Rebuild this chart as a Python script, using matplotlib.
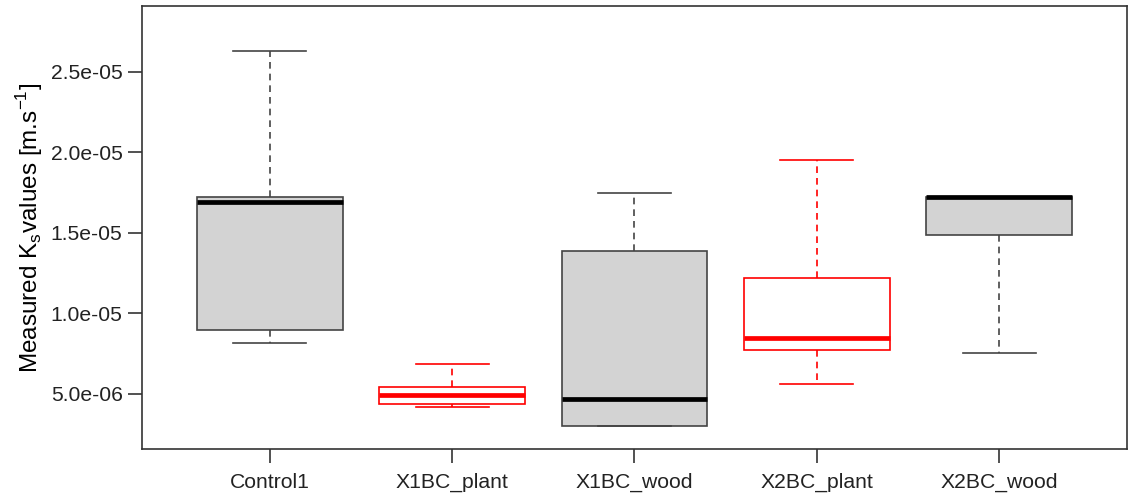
import numpy as np
import matplotlib.pyplot as plt

plt.rcParams['font.family'] = ['Liberation Sans', 'DejaVu Sans']

# box statistics
groups = ['Control1', 'X1BC_plant', 'X1BC_wood', 'X2BC_plant', 'X2BC_wood']
whis_lo = [8.17e-06, 4.18e-06, 2.96e-06, 5.60e-06, 7.54e-06]
q1 = [8.96e-06, 4.35e-06, 2.96e-06, 7.71e-06, 1.488e-05]
medians = [1.693e-05, 4.89e-06, 4.66e-06, 8.44e-06, 1.720e-05]
q3 = [1.721e-05, 5.41e-06, 1.387e-05, 1.217e-05, 1.725e-05]
whis_hi = [2.63e-05, 6.84e-06, 1.747e-05, 1.951e-05, 1.725e-05]
colours = ['black', 'red', 'black', 'red', 'black']
fills = ['lightgray', 'white', 'lightgray', 'white', 'lightgray']

stats = []
for i, g in enumerate(groups):
    stats.append(dict(label=g, whislo=whis_lo[i], q1=q1[i], med=medians[i],
                      q3=q3[i], whishi=whis_hi[i], fliers=[]))

fig = plt.figure(figsize=(11.31, 4.98), dpi=100)
ax = fig.add_axes([0.1256, 0.0984, 0.8708, 0.8896])

positions = np.arange(1, len(groups) + 1)
bp = ax.bxp(stats, positions=positions, widths=0.8, patch_artist=True,
            showfliers=False, whiskerprops=dict(linestyle=(0, (4, 3))))

for i, c in enumerate(colours):
    ec = '#444444' if c == 'black' else 'red'
    bp['boxes'][i].set_facecolor(fills[i])
    bp['boxes'][i].set_edgecolor(ec)
    bp['boxes'][i].set_linewidth(1.2)
    bp['medians'][i].set_color(c)
    bp['medians'][i].set_linewidth(3.4)
    for w in bp['whiskers'][2 * i:2 * i + 2]:
        w.set_color(ec)
        w.set_linewidth(1.2)
    for cap in bp['caps'][2 * i:2 * i + 2]:
        cap.set_color(ec)
        cap.set_linewidth(1.2)
        x = cap.get_xdata()
        mid = (x[0] + x[1]) / 2
        cap.set_xdata([mid - 0.2, mid + 0.2])

ax.set_xlim(0.3, 5.7)
ax.set_ylim(1.56e-06, 2.91e-05)
yticks = [5.0e-06, 1.0e-05, 1.5e-05, 2.0e-05, 2.5e-05]
ax.set_yticks(yticks)
ax.set_yticklabels(['5.0e-06', '1.0e-05', '1.5e-05', '2.0e-05', '2.5e-05'])
ax.set_xticks(positions)
ax.set_xticklabels(groups)

for s in ax.spines.values():
    s.set_color('#333333')
    s.set_linewidth(1.2)
ax.tick_params(length=10, width=1.2, color='#333333', labelsize=15.2,
               labelcolor='#222222', pad=4)
ax.tick_params(axis='x', pad=7)

ax.set_ylabel(r'Measured K$_\mathregular{s}$values [m.s$^{\mathregular{-1}}$]',
              fontsize=17.5, labelpad=4)

fig.savefig('out.png', dpi=100)
